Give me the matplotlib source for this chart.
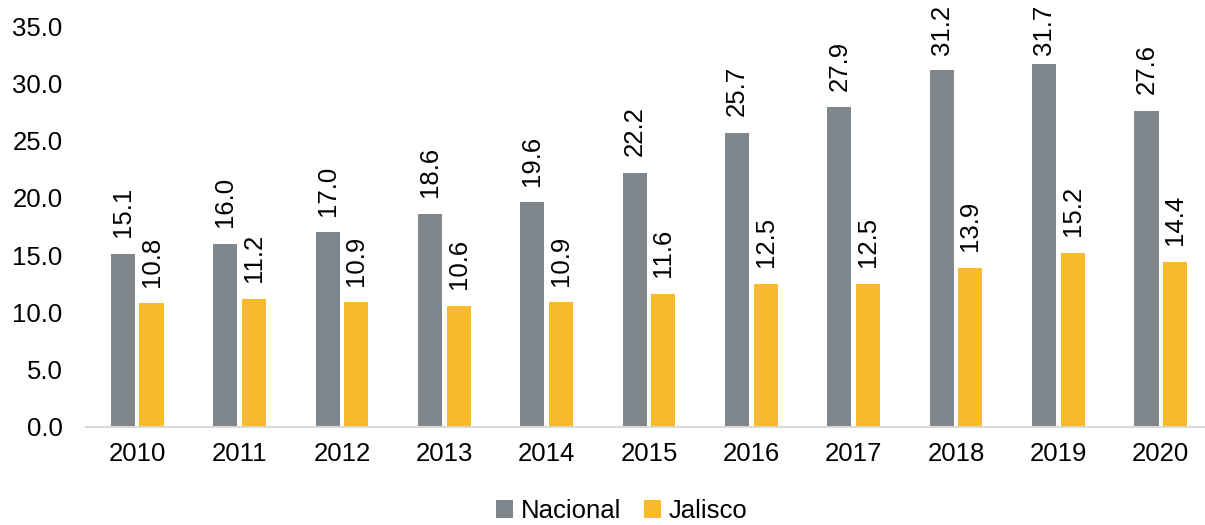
import matplotlib
matplotlib.use("Agg")
import matplotlib.pyplot as plt
import numpy as np

years = ["2010", "2011", "2012", "2013", "2014", "2015", "2016", "2017", "2018", "2019", "2020"]
nacional = [15.1, 16.0, 17.0, 18.6, 19.6, 22.2, 25.7, 27.9, 31.2, 31.7, 27.6]
jalisco = [10.8, 11.2, 10.9, 10.6, 10.9, 11.6, 12.5, 12.5, 13.9, 15.2, 14.4]
yticks = [0, 5, 10, 15, 20, 25, 30, 35]

plt.rcParams['font.family'] = ['Liberation Sans', 'DejaVu Sans']

W, H = 1205, 525
fig = plt.figure(figsize=(W / 100, H / 100), dpi=100)
ax = fig.add_axes([86 / W, 1 - 427 / H, (1212 - 86) / W, 401 / H])

x = np.arange(len(years))
bw = 0.235
off = 0.14
c_nac = "#7F878C"
c_jal = "#F8BB2C"
fs = 18.5
b1 = ax.bar(x - off, nacional, bw, color=c_nac, label="Nacional", zorder=2)
b2 = ax.bar(x + off, jalisco, bw, color=c_jal, label="Jalisco", zorder=2)

gap = 1.45      # label gap above bar (data units)
label_cap = 32.5  # labels are kept inside the chart area (like Excel)
for bars, vals in ((b1, nacional), (b2, jalisco)):
    for r, v in zip(bars, vals):
        ax.text(r.get_x() + r.get_width() / 2, min(v + gap, label_cap), f"{v:.1f}",
                rotation=90, ha="center", va="bottom", fontsize=fs, color="#000000",
                clip_on=False)

ax.set_ylim(0, 35)
ax.set_xlim(-0.5, 10.5)
ax.set_yticks(yticks)
ax.set_yticklabels([f"{t:.1f}" for t in yticks], fontsize=fs)
ax.set_xticks(x)
ax.set_xticklabels(years, fontsize=fs)
ax.tick_params(axis="both", length=0, pad=11)
ax.tick_params(axis="y", pad=17)
for s in ("top", "right", "left"):
    ax.spines[s].set_visible(False)
ax.spines["bottom"].set_color("#D9D9D9")
ax.spines["bottom"].set_linewidth(1.5)

leg = fig.legend(handles=[b1, b2], labels=["Nacional", "Jalisco"], loc="center",
                 bbox_to_anchor=(622 / W, 1 - 511 / H), ncol=2, frameon=False,
                 fontsize=fs, handlelength=0.65, handleheight=0.65, handletextpad=0.3,
                 columnspacing=0.9)

fig.savefig("out.png", dpi=100)
